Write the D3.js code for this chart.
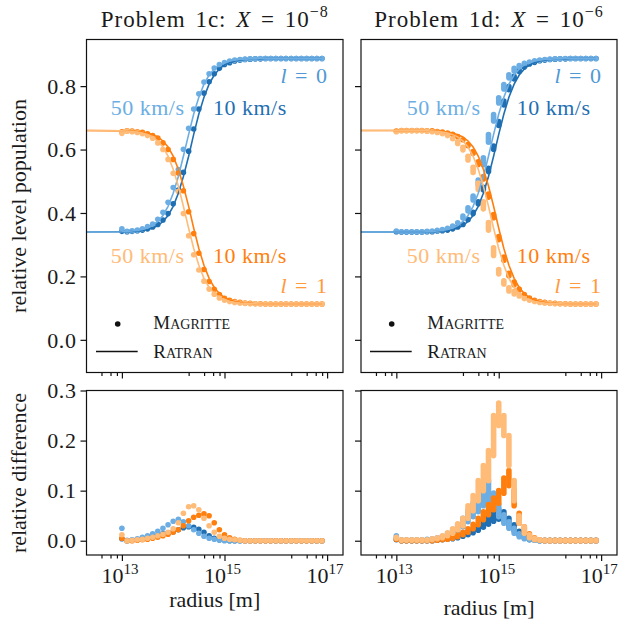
<!DOCTYPE html>
<html><head><meta charset="utf-8">
<script src="https://cdn.jsdelivr.net/npm/d3@7"></script>
<style>
body{margin:0;background:#fff}
svg{display:block}
svg text{font-family:"Liberation Serif","Tinos","Times New Roman","DejaVu Serif","Noto Serif",serif !important;}
</style>
</head><body>
<svg id="c" width="620" height="632" font-family="Liberation Serif, DejaVu Serif, serif"></svg>
<script>
// ---------- DATA ----------
// Magritte sample radii [m]
const radius = [1.00e13,1.26e13,1.58e13,2.00e13,2.51e13,3.16e13,3.98e13,5.01e13,6.31e13,7.94e13,
  1.00e14,1.26e14,1.58e14,2.00e14,2.51e14,3.16e14,3.98e14,5.01e14,6.31e14,7.94e14,
  1.00e15,1.26e15,1.58e15,2.00e15,2.51e15,3.16e15,3.98e15,5.01e15,6.31e15,7.94e15,
  1.00e16,1.26e16,1.58e16,2.00e16,2.51e16,3.16e16,3.98e16,5.01e16,6.31e16,7.94e16];
// Ratran radii [m] (starts further in)
const ratranRadius = [2.0e12].concat(radius);

const seriesKeys = ["l0_10","l0_50","l1_10","l1_50"];
const colors = ["#1f6fb2","#6caee3","#ff7f0e","#ffbb78"];

// Problem 1c, Ratran level populations
const r1c_l0_10 = [.340, .341,.341,.342,.343,.345,.348,.353,.360,.373,.392, .421,.462,.515,.579,.648,.712,.765,.806,.835,.854, .867,.874,.879,.882,.884,.885,.886,.886,.887,.887, .887,.887,.887,.887,.887,.887,.887,.887,.887,.887];
const r1c_l0_50 = [.340, .341,.342,.343,.345,.348,.353,.360,.373,.392,.421, .462,.515,.579,.648,.712,.765,.806,.835,.854,.867, .874,.879,.882,.884,.885,.886,.886,.887,.887,.887, .887,.887,.887,.887,.887,.887,.887,.887,.887,.887];
const r1c_l1_10 = [.660, .659,.659,.658,.657,.655,.652,.647,.640,.627,.608, .579,.538,.485,.421,.352,.288,.235,.194,.165,.146, .133,.126,.121,.118,.116,.115,.114,.114,.113,.113, .113,.113,.113,.113,.113,.113,.113,.113,.113,.113];
const r1c_l1_50 = [.660, .659,.658,.657,.655,.652,.647,.640,.627,.608,.579, .538,.485,.421,.352,.288,.235,.194,.165,.146,.133, .126,.121,.118,.116,.115,.114,.114,.113,.113,.113, .113,.113,.113,.113,.113,.113,.113,.113,.113,.113];
// Problem 1c, Magritte level populations
const m1c_l0_10 = [.342,.341,.342,.344,.346,.350,.356,.364,.378,.398, .429,.472,.528,.595,.665,.728,.778,.814,.839,.856, .868,.874,.879,.882,.884,.885,.886,.886,.887,.887, .887,.887,.887,.887,.887,.887,.887,.887,.887,.887];
const m1c_l0_50 = [.350,.342,.344,.346,.350,.357,.365,.380,.402,.434, .480,.537,.601,.667,.728,.776,.813,.839,.857,.868, .874,.879,.882,.884,.885,.886,.886,.887,.887,.887, .887,.887,.887,.887,.887,.887,.887,.887,.887,.887];
const m1c_l1_10 = [.656,.659,.658,.656,.654,.650,.644,.636,.621,.600, .569,.526,.470,.404,.335,.273,.222,.184,.159,.143, .131,.125,.121,.118,.116,.115,.114,.114,.113,.113, .113,.113,.113,.113,.113,.113,.113,.113,.113,.113];
const m1c_l1_50 = [.651,.658,.656,.654,.650,.644,.636,.621,.600,.569, .525,.468,.398,.328,.268,.220,.185,.160,.144,.132, .125,.121,.118,.116,.115,.114,.114,.113,.113,.113, .113,.113,.113,.113,.113,.113,.113,.113,.113,.113];
// Problem 1c, relative difference
const d1c_l0_10 = [.004,.000,.001,.002,.004,.006,.008,.011,.014,.016, .018,.022,.026,.028,.027,.023,.017,.010,.005,.002, .001,0,0,0,0,0,0,0,0,0, 0,0,0,0,0,0,0,0,0,0];
const d1c_l0_50 = [.025,.001,.002,.004,.007,.010,.014,.019,.025,.032, .039,.043,.038,.030,.022,.015,.009,.005,.003,.001, 0,0,0,0,0,0,0,0,0,0, 0,0,0,0,0,0,0,0,0,0];
const d1c_l1_10 = [.005,.000,.000,.001,.002,.003,.005,.007,.010,.013, .017,.022,.030,.040,.047,.051,.054,.050,.036,.022, .012,.006,.003,.001,0,0,0,0,0,0, 0,0,0,0,0,0,0,0,0,0];
const d1c_l1_50 = [.012,.000,.001,.002,.003,.005,.007,.010,.013,.017, .024,.036,.055,.068,.070,.062,.045,.030,.017,.009, .005,.003,.002,.001,0,0,0,0,0,0, 0,0,0,0,0,0,0,0,0,0];

// Problem 1d, Ratran level populations
const r1d_l0_10 = [.340, .340,.340,.340,.340,.340,.340,.341,.341,.342,.343, .345,.348,.353,.360,.373,.392,.421,.462,.515,.579, .648,.712,.765,.806,.835,.854,.867,.874,.879,.882, .884,.885,.886,.886,.887,.887,.887,.887,.887,.887];
const r1d_l0_50 = [.340, .340,.340,.340,.340,.340,.340,.341,.342,.343,.345, .348,.353,.360,.373,.392,.421,.462,.515,.579,.648, .712,.765,.806,.835,.854,.867,.874,.879,.882,.884, .885,.886,.886,.887,.887,.887,.887,.887,.887,.887];
const r1d_l1_10 = [.660, .660,.660,.660,.660,.660,.660,.659,.659,.658,.657, .655,.652,.647,.640,.627,.608,.579,.538,.485,.421, .352,.288,.235,.194,.165,.146,.133,.126,.121,.118, .116,.115,.114,.114,.113,.113,.113,.113,.113,.113];
const r1d_l1_50 = [.660, .660,.660,.660,.660,.660,.660,.659,.658,.657,.655, .652,.647,.640,.627,.608,.579,.538,.485,.421,.352, .288,.235,.194,.165,.146,.133,.126,.121,.118,.116, .115,.114,.114,.113,.113,.113,.113,.113,.113,.113];
// Problem 1d, Magritte level populations (centre of the spread of points at each radius)
const m1d_l0_10 = [.341,.340,.340,.340,.340,.340,.341,.341,.343,.344, .346,.350,.356,.364,.379,.400,.432,.477,.536,.606, .682,.747,.794,.827,.848,.860,.870,.875,.880,.882, .884,.885,.886,.886,.887,.887,.887,.887,.887,.887];
const m1d_l0_50 = [.343,.341,.341,.341,.341,.341,.342,.343,.345,.348, .352,.359,.369,.387,.411,.447,.496,.563,.635,.700, .755,.798,.831,.852,.863,.872,.876,.880,.882,.884, .885,.886,.886,.887,.887,.887,.887,.887,.887,.887];
const m1d_l1_10 = [.658,.660,.660,.660,.660,.660,.659,.659,.657,.655, .652,.648,.641,.631,.614,.591,.557,.511,.455,.390, .321,.256,.206,.178,.158,.143,.132,.125,.121,.118, .116,.115,.114,.114,.113,.113,.113,.113,.113,.113];
const m1d_l1_50 = [.656,.659,.659,.659,.659,.659,.658,.656,.654,.650, .644,.634,.622,.603,.573,.536,.484,.424,.358,.278, .215,.181,.159,.149,.140,.130,.125,.121,.118,.116, .115,.114,.114,.113,.113,.113,.113,.113,.113,.113];
// Problem 1d, Magritte half-spread of points at each radius
const s1d_l0_10 = [0,0,0,0,0,0,0,0,0,0, 0,0,0,0,0,.002,.003,.004,.005,.005, .006,.006,.005,.004,.002,0,0,0,0,0, 0,0,0,0,0,0,0,0,0,0];
const s1d_l0_50 = [0,0,0,0,0,0,0,0,0,0, 0,0,0,.003,.005,.006,.008,.011,.012,.010, .008,.007,.005,.004,.002,0,0,0,0,0, 0,0,0,0,0,0,0,0,0,0];
const s1d_l1_10 = [0,0,0,0,0,0,0,0,0,0, 0,0,0,0,.002,.003,.004,.004,.005,.005, .005,.005,.004,.004,.002,0,0,0,0,0, 0,0,0,0,0,0,0,0,0,0];
const s1d_l1_50 = [0,0,0,0,0,0,0,0,0,0, 0,0,.003,.004,.006,.008,.010,.011,.012,.012, .007,.005,.005,.004,.002,0,0,0,0,0, 0,0,0,0,0,0,0,0,0,0];
// Problem 1d, relative difference (lowest and highest point at each radius)
const d1d_l0_10_lo = [.002,0,0,0,0,0,0,0,.001,.002, .003,.004,.006,.009,.012,.016,.021,.027,.033,.039, .043,.040,.030,.020,.011,.005,.002,.001,0,0, 0,0,0,0,0,0,0,0,0,0];
const d1d_l0_10_hi = [.003,.001,.001,.001,.001,.001,.001,.001,.002,.003, .004,.006,.009,.013,.018,.024,.031,.039,.047,.055, .062,.058,.045,.032,.019,.010,.004,.002,.001,.001, .001,.001,.001,.001,.001,.001,.001,.001,.001,.001];
const d1d_l0_50_lo = [.008,.001,.001,.001,.001,.001,.002,.003,.004,.006, .009,.013,.020,.028,.038,.048,.058,.070,.075,.065, .048,.035,.025,.015,.008,.004,.002,.001,0,0, 0,0,0,0,0,0,0,0,0,0];
const d1d_l0_50_hi = [.010,.002,.002,.002,.002,.002,.003,.004,.006,.009, .014,.021,.032,.045,.060,.075,.090,.115,.120,.095, .072,.052,.038,.025,.014,.007,.003,.002,.001,.001, .001,.001,.001,.001,.001,.001,.001,.001,.001,.001];
const d1d_l1_10_lo = [.003,0,0,0,0,0,0,0,.001,.002, .003,.005,.008,.012,.017,.024,.032,.042,.052,.062, .075,.095,.110,.070,.035,.018,.008,.003,.001,0, 0,0,0,0,0,0,0,0,0,0];
const d1d_l1_10_hi = [.004,.001,.001,.001,.001,.001,.001,.001,.002,.003, .005,.008,.012,.017,.024,.033,.045,.058,.072,.085, .100,.125,.140,.100,.055,.028,.014,.006,.002,.001, .001,.001,.001,.001,.001,.001,.001,.001,.001,.001];
const d1d_l1_50_lo = [.005,.001,.001,.001,.001,.001,.001,.002,.004,.006, .010,.015,.022,.030,.045,.060,.080,.100,.120,.170, .230,.210,.150,.080,.035,.015,.006,.002,.001,0, 0,0,0,0,0,0,0,0,0,0];
const d1d_l1_50_hi = [.007,.002,.002,.002,.002,.002,.002,.004,.006,.010, .016,.024,.034,.045,.070,.090,.120,.150,.180,.250, .275,.250,.210,.120,.050,.028,.012,.005,.002,.001, .001,.001,.001,.001,.001,.001,.001,.001,.001,.001];

const xMajorTicks = [1e13,1e15,1e17];
const xMajorLabels = ["13","15","17"];
const xMinorTicks = [4e12,6e12,8e12,2e14,4e14,6e14,8e14,2e16,4e16,6e16,8e16];
const popTicks = [0,0.2,0.4,0.6,0.8];
const diffTicks = [0,0.1,0.2,0.3];
const titles = [["Problem 1c: ","8"],["Problem 1d: ","6"]];

// ---------- DRAWING ----------
const SERIF = "'Liberation Serif','Tinos','Times New Roman','DejaVu Serif','Noto Serif',serif";
const svg = d3.select("#c");
svg.append("rect").attr("width",620).attr("height",632).attr("fill","#fff");
const FS = 22, R = 2.8;
const cols = [{x0:86.5,x1:343},{x0:361,x1:617}];
const rows = {pop:{y0:39.5,y1:372.5,dom:[-0.103,0.947]}, diff:{y0:390.5,y1:555,dom:[-0.0285,0.3]}};
const xDom = [Math.pow(10,12.31), Math.pow(10,17.31)];
let clipId = 0;

function txt(sel){ return sel.style("font-family",SERIF).style("fill","#1a1a1a"); }

function frame(col,row,opts){
  const x = d3.scaleLog().domain(xDom).range([col.x0,col.x1]);
  const y = d3.scaleLinear().domain(row.dom).range([row.y1,row.y0]);
  const g = svg.append("g");
  const id = "clip"+(clipId++);
  svg.append("clipPath").attr("id",id).append("rect")
    .attr("x",col.x0).attr("y",row.y0).attr("width",col.x1-col.x0).attr("height",row.y1-row.y0);
  const plot = g.append("g").attr("clip-path","url(#"+id+")");
  const ax = g.append("g").attr("transform","translate(0,"+row.y1+")")
    .call(d3.axisBottom(x).tickValues(xMajorTicks).tickSize(6).tickFormat(""));
  const axm = g.append("g").attr("transform","translate(0,"+row.y1+")")
    .call(d3.axisBottom(x).tickValues(xMinorTicks).tickSize(3.5).tickFormat(""));
  const ay = g.append("g").attr("transform","translate("+col.x0+",0)")
    .call(d3.axisLeft(y).tickValues(opts.yTicks).tickSize(6).tickFormat(opts.yLabels? d3.format(".1f") : ""));
  [ax,axm,ay].forEach(a=>{a.select(".domain").remove();
    a.attr("font-family",null);
    a.selectAll(".tick line").attr("stroke","#111").attr("stroke-width",1.2);});
  txt(ay.selectAll(".tick text")).attr("font-size",FS).attr("x",-10).attr("dy","0.33em").style("letter-spacing","0.6px");
  if(opts.xLabels){
    const lab = g.append("g");
    xMajorTicks.forEach((t,i)=>{
      const tx = txt(lab.append("text")).attr("x",x(t)-2).attr("y",opts.xTickY).attr("text-anchor","middle").attr("font-size",FS);
      tx.append("tspan").text("10");
      tx.append("tspan").attr("dy",-9).attr("font-size",15).text(xMajorLabels[i]);
    });
  }
  return {g,plot,x,y,col,row};
}
function border(p){
  p.g.append("rect").attr("x",p.col.x0).attr("y",p.row.y0).attr("width",p.col.x1-p.col.x0)
    .attr("height",p.row.y1-p.row.y0).attr("fill","none").attr("stroke","#111").attr("stroke-width",1.2);
}
function capsules(p, vals, lo, hi, color){
  p.plot.append("g").selectAll("rect").data(radius.map((r,i)=>({r, a: lo?lo[i]:vals[i], b: hi?hi[i]:vals[i]})))
    .join("rect")
    .attr("x",d=>p.x(d.r)-R).attr("y",d=>p.y(Math.max(d.a,d.b))-R)
    .attr("width",2*R).attr("height",d=>Math.abs(p.y(d.a)-p.y(d.b))+2*R)
    .attr("rx",R).attr("ry",R).attr("fill",color);
}
function ratranLine(p, vals, color){
  p.plot.append("path").datum(ratranRadius.map((r,i)=>({r,v:vals[i]})))
    .attr("d",d3.line().x(d=>p.x(d.r)).y(d=>p.y(d.v)))
    .attr("fill","none").attr("stroke",color).attr("stroke-width",1.6);
}

const popM = [[m1c_l0_10,m1c_l0_50,m1c_l1_10,m1c_l1_50],[m1d_l0_10,m1d_l0_50,m1d_l1_10,m1d_l1_50]];
const popS = [null,[s1d_l0_10,s1d_l0_50,s1d_l1_10,s1d_l1_50]];
const popR = [[r1c_l0_10,r1c_l0_50,r1c_l1_10,r1c_l1_50],[r1d_l0_10,r1d_l0_50,r1d_l1_10,r1d_l1_50]];
const diffLo = [[d1c_l0_10,d1c_l0_50,d1c_l1_10,d1c_l1_50],[d1d_l0_10_lo,d1d_l0_50_lo,d1d_l1_10_lo,d1d_l1_50_lo]];
const diffHi = [[d1c_l0_10,d1c_l0_50,d1c_l1_10,d1c_l1_50],[d1d_l0_10_hi,d1d_l0_50_hi,d1d_l1_10_hi,d1d_l1_50_hi]];

const labelPos = [
  {l0x:327, k50x:110.7, k10x:213, dotx:117.7, lx0:96, lx1:137.7, tx:153.3},
  {l0x:601, k50x:406.7, k10x:516.7, dotx:391.7, lx0:370, lx1:411.7, tx:427.3}
];

[0,1].forEach(c=>{
  const p = frame(cols[c], rows.pop, {yTicks:popTicks, yLabels:c===0});
  seriesKeys.forEach((k,s)=>{
    const sp = popS[c];
    if(sp){
      capsules(p, null, popM[c][s].map((v,i)=>v-sp[s][i]), popM[c][s].map((v,i)=>v+sp[s][i]), colors[s]);
    } else capsules(p, popM[c][s], null, null, colors[s]);
  });
  seriesKeys.forEach((k,s)=> ratranLine(p, popR[c][s], colors[s]));
  border(p);
  const L = labelPos[c];
  const g = p.g;
  const LS = "0.5px";
  const t0 = txt(g.append("text")).attr("x",L.l0x).attr("y",83).attr("text-anchor","end").attr("font-size",FS).style("fill","#4f98d3").style("word-spacing","3px");
  t0.append("tspan").attr("font-style","italic").text("l");
  t0.append("tspan").text(" = 0");
  txt(g.append("text")).attr("x",L.k50x).attr("y",115).attr("font-size",FS).style("fill",colors[1]).style("letter-spacing",LS).text("50 km/s");
  txt(g.append("text")).attr("x",L.k10x).attr("y",115).attr("font-size",FS).style("fill",colors[0]).style("letter-spacing",LS).text("10 km/s");
  txt(g.append("text")).attr("x",L.k50x).attr("y",263).attr("font-size",FS).style("fill",colors[3]).style("letter-spacing",LS).text("50 km/s");
  txt(g.append("text")).attr("x",L.k10x).attr("y",263).attr("font-size",FS).style("fill",colors[2]).style("letter-spacing",LS).text("10 km/s");
  const t1 = txt(g.append("text")).attr("x",L.l0x).attr("y",293).attr("text-anchor","end").attr("font-size",FS).style("fill","#ff9a3d").style("word-spacing","3px");
  t1.append("tspan").attr("font-style","italic").text("l");
  t1.append("tspan").text(" = 1");
  g.append("circle").attr("cx",L.dotx).attr("cy",324).attr("r",R).attr("fill","#111");
  g.append("line").attr("x1",L.lx0).attr("x2",L.lx1).attr("y1",351.5).attr("y2",351.5).attr("stroke","#111").attr("stroke-width",1.6);
  const lg1 = txt(g.append("text")).attr("x",L.tx).attr("y",329).attr("font-size",19);
  lg1.append("tspan").text("M"); lg1.append("tspan").attr("font-size",14).text("AGRITTE");
  const lg2 = txt(g.append("text")).attr("x",L.tx).attr("y",357.5).attr("font-size",19);
  lg2.append("tspan").text("R"); lg2.append("tspan").attr("font-size",14).text("ATRAN");
  const tt = txt(svg.append("text")).attr("x",(cols[c].x0+cols[c].x1)/2).attr("y",27).attr("text-anchor","middle").attr("font-size",23)
    .style("letter-spacing","1px").style("word-spacing","3px");
  tt.append("tspan").text(titles[c][0]);
  tt.append("tspan").attr("font-style","italic").text("X");
  tt.append("tspan").text(" = 10");
  tt.append("tspan").attr("dy",-10).attr("font-size",16).text("\u2212"+titles[c][1]);

  const q = frame(cols[c], rows.diff, {yTicks:diffTicks, yLabels:c===0, xLabels:true, xTickY:583});
  seriesKeys.forEach((k,s)=> capsules(q, null, diffLo[c][s], diffHi[c][s], colors[s]));
  border(q);
  txt(svg.append("text")).attr("x",(cols[c].x0+cols[c].x1)/2).attr("y",c===0?607:615).attr("text-anchor","middle").attr("font-size",FS).text("radius [m]");
});

txt(svg.append("text")).attr("transform","translate(26,206) rotate(-90)").attr("text-anchor","middle").attr("font-size",FS).text("relative level population");
txt(svg.append("text")).attr("transform","translate(26,473) rotate(-90)").attr("text-anchor","middle").attr("font-size",FS).text("relative difference");
</script>
</body></html>
